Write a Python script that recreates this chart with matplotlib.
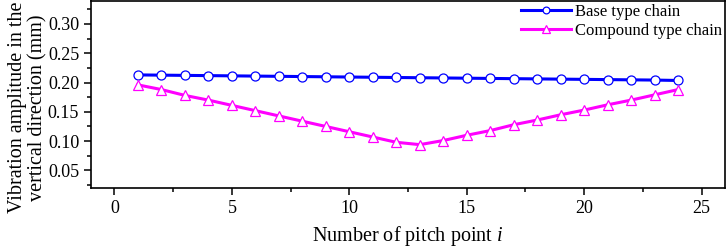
import matplotlib.pyplot as plt
from matplotlib.ticker import MultipleLocator

pitch_points = list(range(1, 25))
base_chain = [0.213, 0.2126, 0.2122, 0.2118, 0.2114, 0.211, 0.2106, 0.2102,
              0.2098, 0.2094, 0.209, 0.2086, 0.2082, 0.2078, 0.2074, 0.207,
              0.2066, 0.2062, 0.2058, 0.2054, 0.205, 0.2046, 0.2042, 0.2035]
compound_chain = [0.196, 0.188, 0.178, 0.170, 0.161, 0.152, 0.143, 0.134,
                  0.125, 0.116, 0.107, 0.098, 0.094, 0.101, 0.110, 0.118,
                  0.128, 0.136, 0.145, 0.153, 0.162, 0.170, 0.179, 0.188]

plt.rcParams.update({
    'font.family': 'serif',
    'font.serif': ['Liberation Serif', 'DejaVu Serif'],
    'mathtext.fontset': 'custom',
    'mathtext.it': 'Liberation Serif:italic',
})

fig = plt.figure(figsize=(7.28, 2.5), dpi=100)
ax = fig.add_axes([0.125, 0.248, 0.871, 0.75])

ax.plot(pitch_points, base_chain, color='#0000ff', linewidth=2.2, marker='o',
        markersize=6.5, markerfacecolor='white', markeredgecolor='#0000ff',
        markeredgewidth=0.9, label='Base type chain')
ax.plot(pitch_points, compound_chain, color='#ff00ff', linewidth=2.2, marker='^',
        markersize=7, markerfacecolor='white', markeredgecolor='#ff00ff',
        markeredgewidth=0.9, label='Compound type chain')

ax.set_xlim(-1, 26)
ax.set_ylim(0.02, 0.34)
ax.xaxis.set_major_locator(MultipleLocator(5))
ax.xaxis.set_minor_locator(MultipleLocator(2.5))
ax.yaxis.set_minor_locator(MultipleLocator(0.025))
ax.set_yticks([0.05, 0.10, 0.15, 0.20, 0.25, 0.30])
ax.set_yticklabels(['0.05', '0.10', '0.15', '0.20', '0.25', '0.30'])

ax.tick_params(which='both', direction='out', labelsize=13, width=1.1)
ax.tick_params(which='major', length=5)
ax.tick_params(which='minor', length=3)
for s in ax.spines.values():
    s.set_linewidth(1.2)

ax.set_xlabel('Number of pitch point $i$', fontsize=14.5, labelpad=5)
ax.set_ylabel('Vibration amplitude in the\nvertical direction (mm)', fontsize=14.5,
              linespacing=1.12)
ax.yaxis.set_label_coords(-0.068, 0.43)

ax.legend(loc='upper right', frameon=False, fontsize=12, handlelength=3.0,
          borderaxespad=0.0, labelspacing=0.2, handletextpad=0.2,
          markerscale=0.75, borderpad=0.2)

fig.savefig('out.png', dpi=100)
